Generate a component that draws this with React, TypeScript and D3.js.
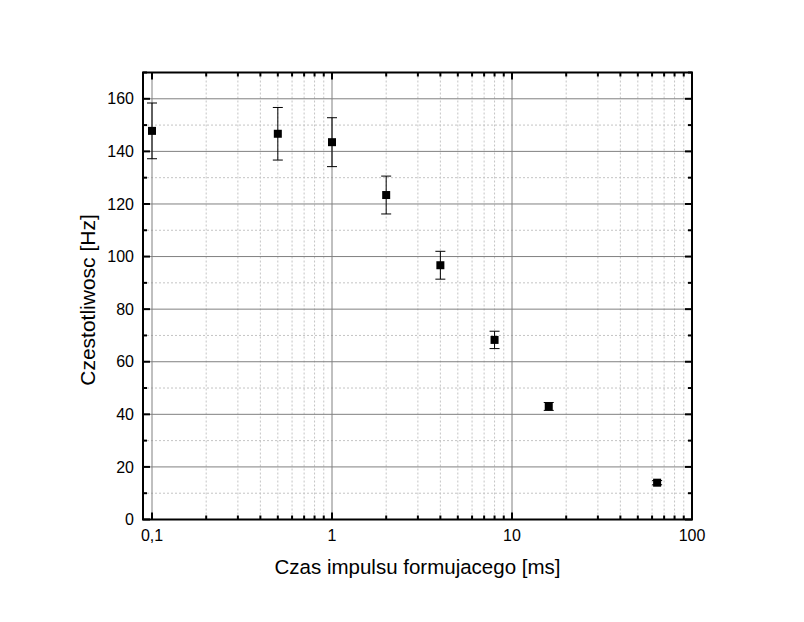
import React from "react";
import * as d3 from "d3";

const pulseTimes = [0.1, 0.5, 1, 2, 4, 8, 16, 64];
const frequencies = [147.8, 146.7, 143.5, 123.4, 96.7, 68.3, 43.0, 14.0];
const errors = [10.6, 10.0, 9.3, 7.2, 5.3, 3.3, 1.5, 0.8];
const xMajorTicks = [0.1, 1, 10, 100];
const xTickLabels = ["0,1", "1", "10", "100"];
const yMajorTicks = [0, 20, 40, 60, 80, 100, 120, 140, 160];
const yMinorTicks = [10, 30, 50, 70, 90, 110, 130, 150, 170];
const xTitle = "Czas impulsu formujacego [ms]";
const yTitle = "Czestotliwosc [Hz]";

const W = 804, H = 622;
const L = 143, R = 692, T = 72.5, B = 519.5;

export default function App() {
  const x = d3.scaleLog().domain([Math.pow(10, -1.05), 100]).range([L, R]);
  const y = d3.scaleLinear().domain([0, 170]).range([B, T]);
  const xMinor: number[] = [];
  [0.1, 1, 10].forEach((d) => {
    for (let k = 2; k <= 9; k++) xMinor.push(d * k);
  });
  const font = "'Liberation Sans', Arial, sans-serif";
  return (
    <svg width={W} height={H} style={{ position: "absolute", left: 0, top: 0, background: "#fff" }}>
      {/* minor grid */}
      {xMinor.map((v, i) => (
        <line key={"xmg" + i} x1={x(v)} x2={x(v)} y1={T} y2={B} stroke="#c4c4c4" strokeWidth={1} strokeDasharray="2,2" />
      ))}
      {yMinorTicks.filter((v) => v < 170).map((v, i) => (
        <line key={"ymg" + i} x1={L} x2={R} y1={y(v)} y2={y(v)} stroke="#c4c4c4" strokeWidth={1} strokeDasharray="2,2" />
      ))}
      {/* major grid */}
      {xMajorTicks.map((v, i) => (
        <line key={"xg" + i} x1={x(v)} x2={x(v)} y1={T} y2={B} stroke="#808080" strokeWidth={1} />
      ))}
      {yMajorTicks.map((v, i) => (
        <line key={"yg" + i} x1={L} x2={R} y1={y(v)} y2={y(v)} stroke="#808080" strokeWidth={1} />
      ))}
      {/* frame */}
      <rect x={L} y={T} width={R - L} height={B - T} fill="none" stroke="#000" strokeWidth={2} />
      {/* ticks */}
      {xMajorTicks.map((v, i) => (
        <g key={"xt" + i}>
          <line x1={x(v)} x2={x(v)} y1={B} y2={B - 7} stroke="#000" strokeWidth={2} />
          <line x1={x(v)} x2={x(v)} y1={T} y2={T + 7} stroke="#000" strokeWidth={2} />
        </g>
      ))}
      {xMinor.map((v, i) => (
        <g key={"xmt" + i}>
          <line x1={x(v)} x2={x(v)} y1={B} y2={B - 4} stroke="#000" strokeWidth={2} />
          <line x1={x(v)} x2={x(v)} y1={T} y2={T + 4} stroke="#000" strokeWidth={2} />
        </g>
      ))}
      {yMajorTicks.map((v, i) => (
        <g key={"yt" + i}>
          <line x1={L} x2={L + 7} y1={y(v)} y2={y(v)} stroke="#000" strokeWidth={2} />
          <line x1={R} x2={R - 7} y1={y(v)} y2={y(v)} stroke="#000" strokeWidth={2} />
        </g>
      ))}
      {yMinorTicks.map((v, i) => (
        <g key={"ymt" + i}>
          <line x1={L} x2={L + 4} y1={y(v)} y2={y(v)} stroke="#000" strokeWidth={2} />
          <line x1={R} x2={R - 4} y1={y(v)} y2={y(v)} stroke="#000" strokeWidth={2} />
        </g>
      ))}
      {/* tick labels */}
      {xMajorTicks.map((v, i) => (
        <text key={"xl" + i} x={x(v)} y={541} textAnchor="middle" fontFamily={font} fontSize={16} fill="#000">
          {xTickLabels[i]}
        </text>
      ))}
      {yMajorTicks.map((v, i) => (
        <text key={"yl" + i} x={134} y={y(v)} dy="0.35em" textAnchor="end" fontFamily={font} fontSize={16} fill="#000">
          {v}
        </text>
      ))}
      {/* titles */}
      <text x={(L + R) / 2} y={574} textAnchor="middle" fontFamily={font} fontSize={20.5} fill="#000">
        {xTitle}
      </text>
      <text transform={`translate(95,300) rotate(-90)`} textAnchor="middle" fontFamily={font} fontSize={21} fill="#000">
        {yTitle}
      </text>
      {/* data */}
      {pulseTimes.map((t, i) => {
        const cx = x(t);
        const cy = y(frequencies[i]);
        const y1 = y(frequencies[i] + errors[i]);
        const y2 = y(frequencies[i] - errors[i]);
        return (
          <g key={"p" + i}>
            <line x1={cx} x2={cx} y1={y1} y2={y2} stroke="#000" strokeWidth={1} />
            <line x1={cx - 5} x2={cx + 5} y1={y1} y2={y1} stroke="#000" strokeWidth={1} />
            <line x1={cx - 5} x2={cx + 5} y1={y2} y2={y2} stroke="#000" strokeWidth={1} />
            <rect x={cx - 4} y={cy - 4} width={8} height={8} fill="#000" />
          </g>
        );
      })}
    </svg>
  );
}
